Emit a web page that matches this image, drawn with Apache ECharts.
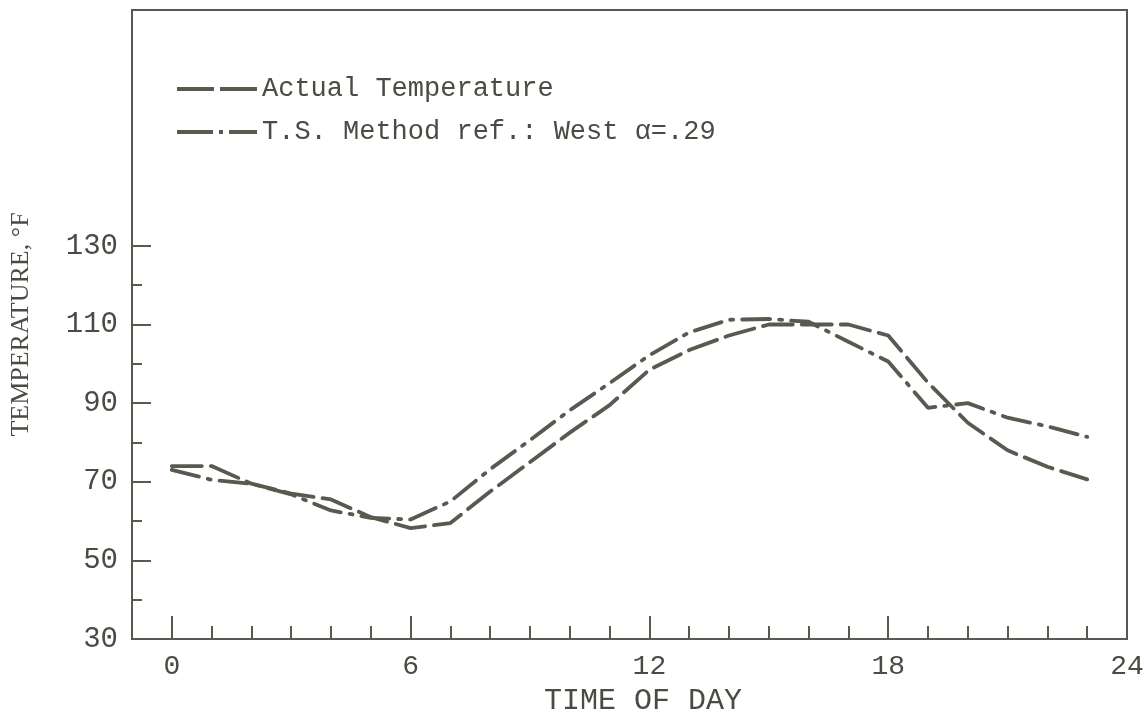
<!DOCTYPE html>
<html>
<head>
<meta charset="utf-8">
<script src="https://cdn.jsdelivr.net/npm/echarts@6/dist/echarts.min.js"></script>
<style>
html,body{margin:0;padding:0;background:#fff;}
#c{width:1144px;height:714px;}
</style>
</head>
<body>
<div id="c"></div>
<script>
const hours = [0,1,2,3,4,5,6,7,8,9,10,11,12,13,14,15,16,17,18,19,20,21,22,23];
const actualTemp = [74,74,69.5,67,65.5,61,58.2,59.5,67.5,75,82.5,89.5,98.5,103.5,107.2,110,110,110,107.2,95.2,85,78,73.8,70.6];
const tsMethod = [73,70.5,69.5,66.8,62.7,60.8,60.4,65,73.2,80.6,88.2,95.1,102.2,108,111.2,111.4,110.7,105.6,100.6,88.8,90,86.3,84.1,81.4];
const seriesNames = ['Actual Temperature', 'T.S. Method ref.: West \u03b1=.29'];
const xLabelValues = [0,6,12,18,24];
const xMajorTicks = [0,6,12,18];
const xMinorTicks = [1,2,3,4,5,7,8,9,10,11,13,14,15,16,17,19,20,21,22,23];
const yLabelValues = [30,50,70,90,110,130];
const yMajorTicks = [50,70,90,110,130];
const yMinorTicks = [40,60,80,100,120];

const ink = '#58594f';
const textInk = '#4a4b42';
const mono = '"Liberation Mono", "DejaVu Sans Mono", monospace';

// legend key glyphs (dash patterns of the two line styles)
const dashIcon = 'path://M0,0h37v4h-37z M43,0h37v4h-37z';
const dashDotIcon = 'path://M0,0h36v4h-36z M42,0h4v4h-4z M52,0h28v4h-28z';

const chart = echarts.init(document.getElementById('c'), null, {renderer: 'canvas'});
const toPairs = (vals) => hours.map((h, i) => [h, vals[i]]);

const baseX = {type: 'value', min: -1, max: 24, gridIndex: 0, splitLine: {show: false}};
const baseY = {type: 'value', min: 30, max: 190, gridIndex: 0, splitLine: {show: false}};

chart.setOption({
  animation: false,
  backgroundColor: '#ffffff',
  grid: {left: 132, right: 17, top: 10, bottom: 75, outerBoundsMode: 'none', containLabel: false, show: true, borderColor: ink, borderWidth: 2, backgroundColor: 'transparent'},
  legend: {
    orient: 'vertical', left: 172, top: 69,
    itemWidth: 80, itemHeight: 4, itemGap: 13,
    data: [
      {name: seriesNames[0], icon: dashIcon},
      {name: seriesNames[1], icon: dashDotIcon}
    ],
    itemStyle: {color: ink, borderWidth: 0},
    textStyle: {fontFamily: mono, fontSize: 27, color: textInk, lineHeight: 30}
  },
  xAxis: [
    Object.assign({}, baseX, {
      position: 'bottom',
      axisLine: {show: true, onZero: false, lineStyle: {color: ink, width: 2}},
      axisTick: {show: true, inside: true, length: 13, customValues: xMinorTicks, lineStyle: {color: ink, width: 2}},
      axisLabel: {show: true, customValues: xLabelValues, margin: 14, fontFamily: mono, fontSize: 28, color: textInk},
      name: 'TIME OF DAY', nameLocation: 'middle', nameGap: 41,
      nameTextStyle: {fontFamily: mono, fontSize: 30, color: textInk, padding: [0,0,0,27]}
    }),
    Object.assign({}, baseX, {
      position: 'bottom',
      axisLine: {show: false, onZero: false},
      axisTick: {show: true, inside: true, length: 23, customValues: xMajorTicks, lineStyle: {color: ink, width: 2}},
      axisLabel: {show: false}
    })
  ],
  yAxis: [
    Object.assign({}, baseY, {
      position: 'left',
      axisLine: {show: true, onZero: false, lineStyle: {color: ink, width: 2}},
      axisTick: {show: true, inside: true, length: 19, customValues: yMajorTicks, lineStyle: {color: ink, width: 2}},
      axisLabel: {show: true, customValues: yLabelValues, margin: 14, fontFamily: mono, fontSize: 29, color: textInk},
      name: 'TEMPERATURE, \u00b0F', nameLocation: 'middle', nameGap: 98, nameRotate: 90,
      nameTextStyle: {fontFamily: '"Liberation Serif", serif', fontSize: 26, color: textInk}
    }),
    Object.assign({}, baseY, {
      position: 'left',
      axisLine: {show: false, onZero: false},
      axisTick: {show: true, inside: true, length: 10, customValues: yMinorTicks, lineStyle: {color: ink, width: 2}},
      axisLabel: {show: false}
    })
  ],
  series: [
    {
      name: seriesNames[0], type: 'line', xAxisIndex: 0, yAxisIndex: 0,
      data: toPairs(actualTemp), symbol: 'none', showSymbol: false,
      lineStyle: {color: ink, width: 3.8, type: [30, 9], cap: 'round'},
      itemStyle: {color: ink}
    },
    {
      name: seriesNames[1], type: 'line', xAxisIndex: 0, yAxisIndex: 0,
      data: toPairs(tsMethod), symbol: 'none', showSymbol: false,
      lineStyle: {color: ink, width: 3.8, type: [28, 9, 3, 9], cap: 'round'},
      itemStyle: {color: ink}
    }
  ]
});
</script>
</body>
</html>
